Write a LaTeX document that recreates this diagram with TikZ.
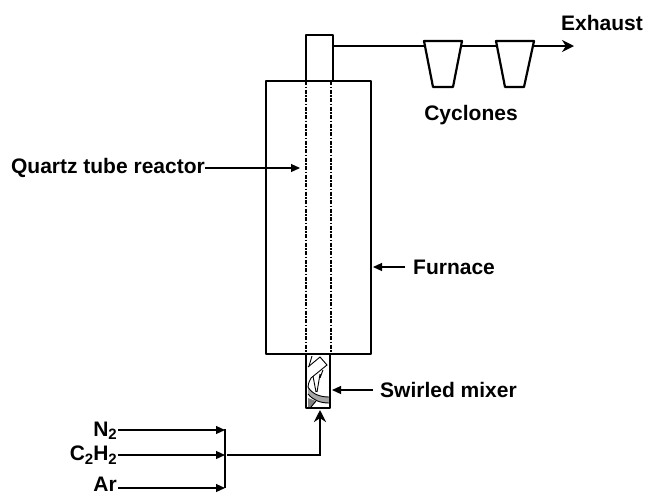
\documentclass[tikz,border=0pt]{standalone}
\usepackage{fontspec}
\setmainfont{Liberation Sans}
\usetikzlibrary{arrows.meta}
\newcommand{\subt}[1]{\raisebox{-0.3ex}{\fontsize{15}{15}\selectfont #1}}
\tikzset{
  lbl/.style={font=\fontsize{21}{24}\selectfont\bfseries,inner sep=0pt},
  wall/.style={draw=black,line width=2.2pt,line join=round},
  thin arrow/.style={draw=black,line width=1.2pt,-{Triangle[length=9pt,width=8pt]}},
  thick arrow/.style={draw=black,line width=2.8pt,-{Stealth[length=12pt,width=12pt]}},
  swirl/.style={draw=black,line width=0.9pt},
  tube/.style={draw=black,line width=1.5pt,dash pattern=on 4pt off 1.5pt on 1.5pt off 1.5pt},
}
\begin{document}
\begin{tikzpicture}[x=1pt,y=-1pt]
\useasboundingbox (0,0) rectangle (645,496);
% label arrows that run behind the furnace outline
\node[lbl,anchor=east] (quartz) at (205,168) {Quartz tube reactor};
\coordinate (qt) at (300,168);
\draw[thin arrow] (quartz.east) -- (qt);
% furnace and tube top
\draw[wall] (266,81) rectangle (371,354);
\draw[wall] (306,81) -- (306,35) -- (333,35) -- (333,81);
\coordinate (tl) at (306,81); \coordinate (tr) at (331,81);
\coordinate (bl) at (306,354); \coordinate (br) at (331,354);
\draw[tube] (tl) -- (bl);
\draw[tube] (tr) -- (br);
% swirled mixer interior
\fill[black!35] (308,387) .. controls (312,394) and (320,397) .. (329,397) -- (329,403) .. controls (320,403) and (313,400) .. (308,394) -- cycle;
\fill[black!50] (308,398) -- (316,401) -- (311,407) -- (308,407) -- cycle;
\draw[swirl] (308,367) -- (320,357) -- (327,365) -- (311,378);
\draw[swirl] (312,356) -- (309,366);
\draw[swirl] (311,378) .. controls (309,382) and (308,384) .. (308,387);
\draw[swirl] (313,376) -- (316,392) (320,374) -- (317,392) (323,370) -- (320,378);
\draw[swirl] (308,387) .. controls (312,394) and (320,397) .. (329,397);
\draw[swirl] (308,394) .. controls (313,400) and (320,403) .. (329,403);
\draw[swirl] (316,401) -- (311,407);
% mixer walls
\draw[wall] (306,354) -- (306,408) -- (330,408) -- (330,354);
% exhaust line and cyclones
\coordinate (exout) at (574,46);
\draw[draw=black,line width=2.8pt] (333,46) -- (424,46);
\draw[wall,fill=white] (424,41) -- (462,41) -- (453,87) -- (433,87) -- cycle;
\draw[draw=black,line width=2.8pt] (462,46) -- (496,46);
\draw[wall,fill=white] (496,41) -- (534,41) -- (524,87) -- (505,87) -- cycle;
\draw[thick arrow] (534,46) -- (exout);
% labels
\node[lbl,anchor=west] (exhaust) at (561,23) {Exhaust};
\node[lbl] (cyclones) at (471,115) {Cyclones};
\node[lbl,anchor=west] (furnace) at (413,267) {Furnace};
\node[lbl,anchor=west] (mixer) at (380,390) {Swirled mixer};
\node[lbl,anchor=east] (n2) at (117,431) {N\subt{2}};
\node[lbl,anchor=east] (c2h2) at (117,455) {C\subt{2}H\subt{2}};
\node[lbl,anchor=east] (ar) at (117,484) {Ar};
% label arrows
\coordinate (ft) at (373,267);
\coordinate (mt) at (332,390);
\draw[thin arrow] (furnace.west) ++(-8,0) -- (ft);
\draw[thin arrow] (mixer.west) ++(-7,0) -- (mt);
% feed
\coordinate (j1) at (225,430); \coordinate (j2) at (225,455); \coordinate (j3) at (225,488);
\draw[thin arrow] (n2.east |- j1) ++(1,0) -- (j1);
\draw[thin arrow] (c2h2.east |- j2) ++(1,0) -- (j2);
\draw[thin arrow] (ar.east |- j3) ++(1,0) -- (j3);
\draw[draw=black,line width=1.6pt] (225,429) -- (j3);
\coordinate (mb) at (320,410);
\draw[thick arrow] (j2) ++(2,0) -| (mb);
\end{tikzpicture}
\end{document}
